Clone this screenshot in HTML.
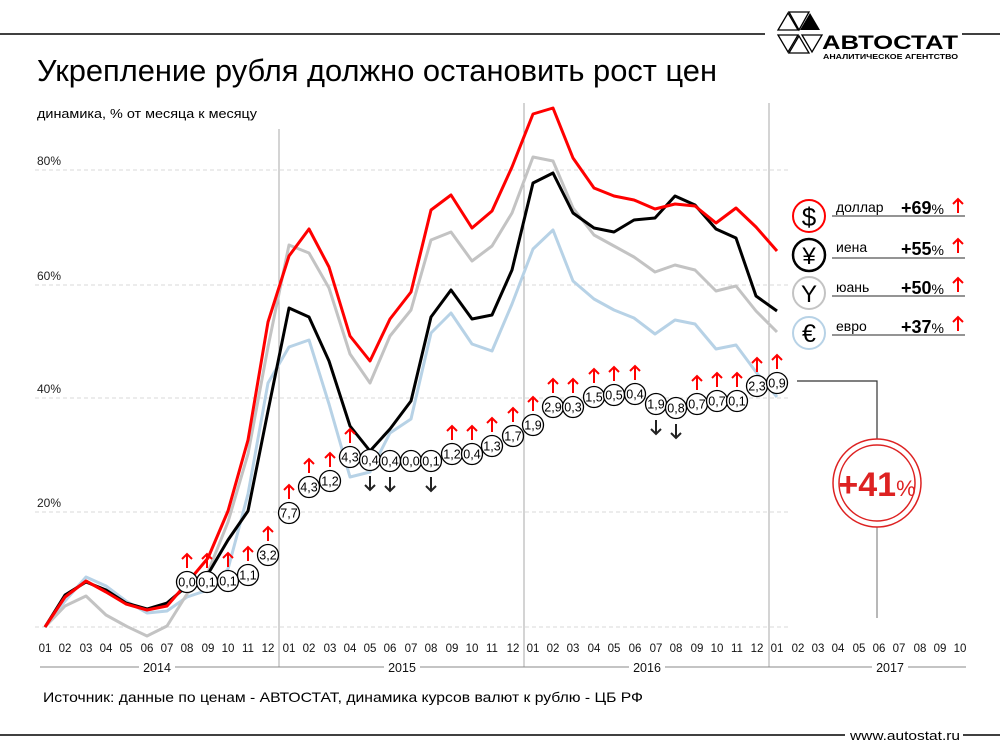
<!DOCTYPE html>
<html><head><meta charset="utf-8"><style>
body{margin:0;background:#fff}
svg{display:block;font-family:"Liberation Sans","DejaVu Sans",sans-serif}
</style></head><body>
<svg width="1000" height="750" viewBox="0 0 1000 750" xmlns="http://www.w3.org/2000/svg">
<line x1="0" y1="34" x2="765" y2="34" stroke="#000" stroke-width="1.5"/>
<line x1="962" y1="34" x2="1000" y2="34" stroke="#000" stroke-width="1.5"/>
<g fill="none" stroke="#000" stroke-width="1.3">
<polygon points="778,30 788,13 798,30"/>
<polygon points="789,12 809,12 799,30"/>
<polygon points="778,35 798,35 788,52"/>
<polygon points="789,53 809,53 799,36"/>
</g>
<polygon points="800,30 810,13 820,30" fill="#000"/>
<polygon points="802,35 822,35 812,52" fill="none" stroke="#000" stroke-width="1.3"/>
<text x="822" y="49" font-size="19" font-weight="bold" textLength="136" lengthAdjust="spacingAndGlyphs">АВТОСТАТ</text>
<text x="823" y="59" font-size="7" font-weight="bold" textLength="135" lengthAdjust="spacingAndGlyphs">АНАЛИТИЧЕСКОЕ АГЕНТСТВО</text>
<text x="37" y="81" font-size="31" textLength="680" lengthAdjust="spacingAndGlyphs">Укрепление рубля должно остановить рост цен</text>
<text x="37" y="118" font-size="13" textLength="220" lengthAdjust="spacingAndGlyphs">динамика, % от месяца к месяцу</text>
<g stroke="#d8d8d8" stroke-dasharray="4,3" stroke-width="1">
<line x1="35" y1="170" x2="790" y2="170"/><line x1="35" y1="285" x2="790" y2="285"/>
<line x1="35" y1="398" x2="790" y2="398"/><line x1="35" y1="512" x2="790" y2="512"/>
<line x1="35" y1="627" x2="790" y2="627"/>
</g>
<g font-size="12" fill="#222">
<text x="37" y="165">80%</text><text x="37" y="280">60%</text><text x="37" y="393">40%</text><text x="37" y="507">20%</text>
</g>
<g stroke="#aaa" stroke-width="1">
<line x1="279" y1="129" x2="279" y2="667"/><line x1="524" y1="103" x2="524" y2="667"/><line x1="769" y1="103" x2="769" y2="667"/>
</g>
<g fill="none" stroke-width="3" stroke-linejoin="round">
<polyline stroke="#b7d2e6" points="45,627 65,601 86,577 106,586 126,601 147,613 167,611 187,597 208,590 228,569 248,494 268,383 289,347 309,340 329,404 350,477 370,472 390,433 411,419 431,333 451,313 472,344 492,351 512,304 533,249 553,230 573,281 594,299 614,310 634,318 655,334 675,320 695,324 716,349 736,345 756,372 777,397"/>
<polyline stroke="#c3c3c3" points="45,627 65,606 86,596 106,615 126,626 147,636 167,626 187,594 208,572 228,522 248,454 268,347 289,245 309,253 329,288 350,354 370,383 390,336 411,310 431,240 451,232 472,261 492,246 512,213 533,157 553,161 573,208 594,235 614,246 634,257 655,272 675,265 695,270 716,291 736,286 756,311 777,332"/>
<polyline stroke="#000" points="45,627 65,595 86,582 106,590 126,603 147,609 167,603 187,586 208,574 228,540 248,511 268,411 289,308 309,317 329,361 350,426 370,451 390,429 411,401 431,317 451,290 472,319 492,315 512,270 533,183 553,173 573,213 594,228 614,232 634,220 655,218 675,196 695,205 716,229 736,238 756,296 777,311"/>
<polyline stroke="#f00" points="45,627 65,597 86,581 106,592 126,604 147,610 167,606 187,583 208,558 228,511 248,440 268,322 289,256 309,229 329,267 350,336 370,361 390,319 411,292 431,210 451,195 472,228 492,211 512,167 533,114 553,108 573,158 594,188 614,196 634,200 655,209 675,204 695,206 716,223 736,208 756,227 777,251"/>
</g>
<defs>
<g id="up"><path d="M0,0 V-14 M-5,-9 L0,-14 L5,-9" fill="none" stroke="#f00" stroke-width="2"/></g>
<g id="dn"><path d="M0,0 V14 M-5,9 L0,14 L5,9" fill="none" stroke="#222" stroke-width="2"/></g>
</defs>
<g font-size="12.5" text-anchor="middle">
<use href="#up" x="187" y="568"/><circle cx="187" cy="582" r="10.5" fill="#fff" stroke="#000" stroke-width="1.3"/><text x="187" y="586.5">0,0</text>
<use href="#up" x="207" y="568"/><circle cx="207" cy="582" r="10.5" fill="#fff" stroke="#000" stroke-width="1.3"/><text x="207" y="586.5">0,1</text>
<use href="#up" x="228" y="567"/><circle cx="228" cy="581" r="10.5" fill="#fff" stroke="#000" stroke-width="1.3"/><text x="228" y="585.5">0,1</text>
<use href="#up" x="248" y="561"/><circle cx="248" cy="575" r="10.5" fill="#fff" stroke="#000" stroke-width="1.3"/><text x="248" y="579.5">1,1</text>
<use href="#up" x="268" y="541"/><circle cx="268" cy="555" r="10.5" fill="#fff" stroke="#000" stroke-width="1.3"/><text x="268" y="559.5">3,2</text>
<use href="#up" x="289" y="499"/><circle cx="289" cy="513" r="10.5" fill="#fff" stroke="#000" stroke-width="1.3"/><text x="289" y="517.5">7,7</text>
<use href="#up" x="309" y="473"/><circle cx="309" cy="487" r="10.5" fill="#fff" stroke="#000" stroke-width="1.3"/><text x="309" y="491.5">4,3</text>
<use href="#up" x="330" y="467"/><circle cx="330" cy="481" r="10.5" fill="#fff" stroke="#000" stroke-width="1.3"/><text x="330" y="485.5">1,2</text>
<use href="#up" x="350" y="443"/><circle cx="350" cy="457" r="10.5" fill="#fff" stroke="#000" stroke-width="1.3"/><text x="350" y="461.5">4,3</text>
<use href="#dn" x="370" y="476"/><circle cx="370" cy="460" r="10.5" fill="#fff" stroke="#000" stroke-width="1.3"/><text x="370" y="464.5">0,4</text>
<use href="#dn" x="390" y="477"/><circle cx="390" cy="461" r="10.5" fill="#fff" stroke="#000" stroke-width="1.3"/><text x="390" y="465.5">0,4</text>
<circle cx="411" cy="461" r="10.5" fill="#fff" stroke="#000" stroke-width="1.3"/><text x="411" y="465.5">0,0</text>
<use href="#dn" x="431" y="477"/><circle cx="431" cy="461" r="10.5" fill="#fff" stroke="#000" stroke-width="1.3"/><text x="431" y="465.5">0,1</text>
<use href="#up" x="452" y="440"/><circle cx="452" cy="454" r="10.5" fill="#fff" stroke="#000" stroke-width="1.3"/><text x="452" y="458.5">1,2</text>
<use href="#up" x="472" y="440"/><circle cx="472" cy="454" r="10.5" fill="#fff" stroke="#000" stroke-width="1.3"/><text x="472" y="458.5">0,4</text>
<use href="#up" x="492" y="432"/><circle cx="492" cy="446" r="10.5" fill="#fff" stroke="#000" stroke-width="1.3"/><text x="492" y="450.5">1,3</text>
<use href="#up" x="513" y="422"/><circle cx="513" cy="436" r="10.5" fill="#fff" stroke="#000" stroke-width="1.3"/><text x="513" y="440.5">1,7</text>
<use href="#up" x="533" y="411"/><circle cx="533" cy="425" r="10.5" fill="#fff" stroke="#000" stroke-width="1.3"/><text x="533" y="429.5">1,9</text>
<use href="#up" x="553" y="393"/><circle cx="553" cy="407" r="10.5" fill="#fff" stroke="#000" stroke-width="1.3"/><text x="553" y="411.5">2,9</text>
<use href="#up" x="573" y="393"/><circle cx="573" cy="407" r="10.5" fill="#fff" stroke="#000" stroke-width="1.3"/><text x="573" y="411.5">0,3</text>
<use href="#up" x="594" y="383"/><circle cx="594" cy="397" r="10.5" fill="#fff" stroke="#000" stroke-width="1.3"/><text x="594" y="401.5">1,5</text>
<use href="#up" x="614" y="381"/><circle cx="614" cy="395" r="10.5" fill="#fff" stroke="#000" stroke-width="1.3"/><text x="614" y="399.5">0,5</text>
<use href="#up" x="635" y="380"/><circle cx="635" cy="394" r="10.5" fill="#fff" stroke="#000" stroke-width="1.3"/><text x="635" y="398.5">0,4</text>
<use href="#dn" x="656" y="420"/><circle cx="656" cy="404" r="10.5" fill="#fff" stroke="#000" stroke-width="1.3"/><text x="656" y="408.5">1,9</text>
<use href="#dn" x="676" y="424"/><circle cx="676" cy="408" r="10.5" fill="#fff" stroke="#000" stroke-width="1.3"/><text x="676" y="412.5">0,8</text>
<use href="#up" x="697" y="390"/><circle cx="697" cy="404" r="10.5" fill="#fff" stroke="#000" stroke-width="1.3"/><text x="697" y="408.5">0,7</text>
<use href="#up" x="717" y="387"/><circle cx="717" cy="401" r="10.5" fill="#fff" stroke="#000" stroke-width="1.3"/><text x="717" y="405.5">0,7</text>
<use href="#up" x="737" y="387"/><circle cx="737" cy="401" r="10.5" fill="#fff" stroke="#000" stroke-width="1.3"/><text x="737" y="405.5">0,1</text>
<use href="#up" x="757" y="372"/><circle cx="757" cy="386" r="10.5" fill="#fff" stroke="#000" stroke-width="1.3"/><text x="757" y="390.5">2,3</text>
<use href="#up" x="777" y="369"/><circle cx="777" cy="383" r="10.5" fill="#fff" stroke="#000" stroke-width="1.3"/><text x="777" y="387.5">0,9</text>
</g>
<polyline points="797,381 877,381 877,439" fill="none" stroke="#333" stroke-width="1.2"/>
<line x1="877" y1="527" x2="877" y2="618" stroke="#888" stroke-width="1.2"/>
<circle cx="877" cy="483" r="44" fill="#fff" stroke="#d22" stroke-width="1.5"/>
<circle cx="877" cy="483" r="38" fill="none" stroke="#d22" stroke-width="1.5"/>
<text x="877" y="496" text-anchor="middle" fill="#d22" font-size="34" font-weight="bold">+41<tspan font-size="22" font-weight="normal">%</tspan></text>
<g font-size="14">
<circle cx="809" cy="216" r="16" fill="#fff" stroke="#f00" stroke-width="2"/><text x="809" y="226" text-anchor="middle" font-size="26">$</text>
<circle cx="809" cy="255" r="16" fill="#fff" stroke="#000" stroke-width="2.5"/><text x="809" y="264" text-anchor="middle" font-size="24">¥</text>
<circle cx="809" cy="293" r="16" fill="#fff" stroke="#c3c3c3" stroke-width="2"/><text x="809" y="302" text-anchor="middle" font-size="24">Y</text>
<circle cx="809" cy="333" r="16" fill="#fff" stroke="#b7d2e6" stroke-width="2"/><text x="809" y="342" text-anchor="middle" font-size="25">€</text>
<g stroke="#555" stroke-width="1.2">
<line x1="832" y1="216" x2="965" y2="216"/><line x1="832" y1="258" x2="965" y2="258"/>
<line x1="832" y1="296" x2="965" y2="296"/><line x1="832" y1="335" x2="965" y2="335"/>
</g>
<text x="836" y="212">доллар</text><text x="836" y="252">иена</text><text x="836" y="292">юань</text><text x="836" y="331">евро</text>
<g font-size="18" text-anchor="end" font-weight="bold">
<text x="944" y="214">+69<tspan font-size="14" font-weight="normal">%</tspan></text>
<text x="944" y="255">+55<tspan font-size="14" font-weight="normal">%</tspan></text>
<text x="944" y="294">+50<tspan font-size="14" font-weight="normal">%</tspan></text>
<text x="944" y="333">+37<tspan font-size="14" font-weight="normal">%</tspan></text>
</g>
<g fill="none" stroke="#f00" stroke-width="2">
<path d="M958,213 V199 M953,204 L958,199 L963,204"/>
<path d="M958,253 V239 M953,244 L958,239 L963,244"/>
<path d="M958,292 V278 M953,283 L958,278 L963,283"/>
<path d="M958,331 V317 M953,322 L958,317 L963,322"/>
</g>
</g>
<g font-size="11.5" text-anchor="middle" fill="#111">
<text x="45" y="652">01</text><text x="65" y="652">02</text><text x="86" y="652">03</text><text x="106" y="652">04</text><text x="126" y="652">05</text><text x="147" y="652">06</text><text x="167" y="652">07</text><text x="187" y="652">08</text><text x="208" y="652">09</text><text x="228" y="652">10</text><text x="248" y="652">11</text><text x="268" y="652">12</text>
<text x="289" y="652">01</text><text x="309" y="652">02</text><text x="330" y="652">03</text><text x="350" y="652">04</text><text x="370" y="652">05</text><text x="390" y="652">06</text><text x="411" y="652">07</text><text x="431" y="652">08</text><text x="452" y="652">09</text><text x="472" y="652">10</text><text x="492" y="652">11</text><text x="513" y="652">12</text>
<text x="533" y="652">01</text><text x="553" y="652">02</text><text x="573" y="652">03</text><text x="594" y="652">04</text><text x="614" y="652">05</text><text x="635" y="652">06</text><text x="656" y="652">07</text><text x="676" y="652">08</text><text x="697" y="652">09</text><text x="717" y="652">10</text><text x="737" y="652">11</text><text x="757" y="652">12</text>
<text x="777" y="652">01</text><text x="798" y="652">02</text><text x="818" y="652">03</text><text x="838" y="652">04</text><text x="859" y="652">05</text><text x="879" y="652">06</text><text x="899" y="652">07</text><text x="920" y="652">08</text><text x="940" y="652">09</text><text x="960" y="652">10</text>
<g font-size="12.5">
<text x="157" y="672">2014</text><text x="402" y="672">2015</text><text x="647" y="672">2016</text><text x="890" y="672">2017</text>
</g>
</g>
<g stroke="#888" stroke-width="1">
<line x1="40" y1="667" x2="139" y2="667"/><line x1="175" y1="667" x2="384" y2="667"/>
<line x1="420" y1="667" x2="629" y2="667"/><line x1="665" y1="667" x2="872" y2="667"/><line x1="908" y1="667" x2="966" y2="667"/>
</g>
<text x="43" y="702" font-size="14" textLength="600" lengthAdjust="spacingAndGlyphs">Источник: данные по ценам - АВТОСТАТ, динамика курсов валют к рублю - ЦБ РФ</text>
<line x1="0" y1="735" x2="845" y2="735" stroke="#000" stroke-width="1.5"/>
<line x1="963" y1="735" x2="1000" y2="735" stroke="#000" stroke-width="1.5"/>
<text x="850" y="740" font-size="13" textLength="110" lengthAdjust="spacingAndGlyphs">www.autostat.ru</text>
</svg>
</body></html>
